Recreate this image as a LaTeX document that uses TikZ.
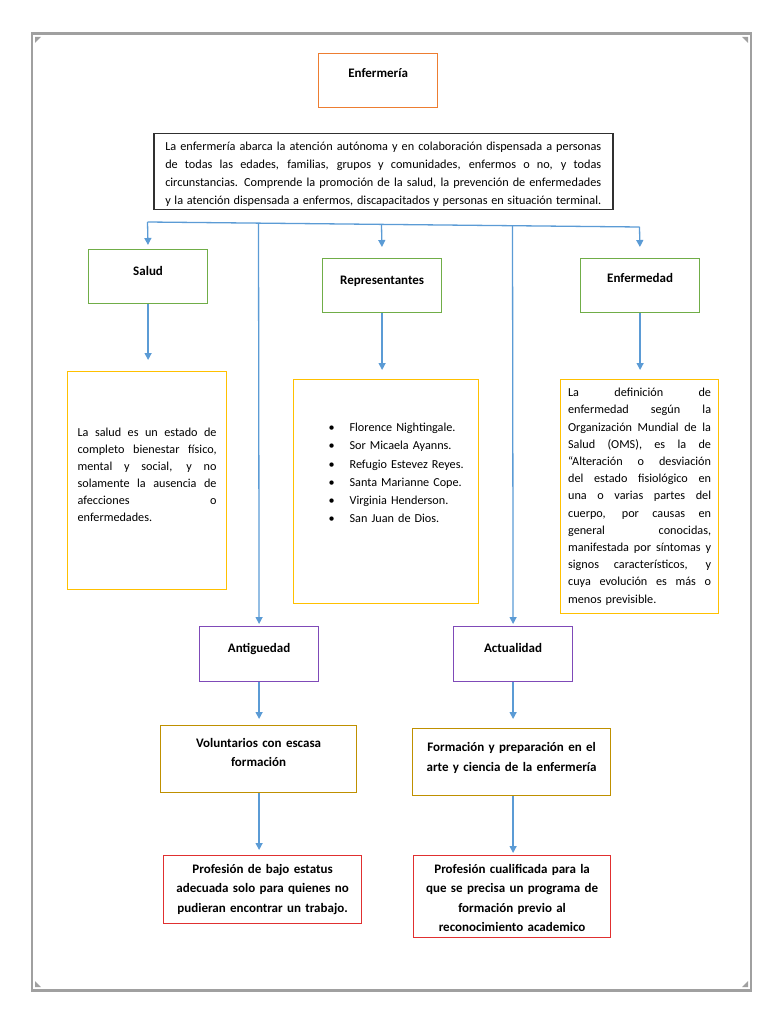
\documentclass[tikz,border=0pt]{standalone}
\usepackage{fontspec}
\setmainfont{Carlito}
\usetikzlibrary{arrows.meta}
\definecolor{orng}{HTML}{ED7D31}
\definecolor{grn}{HTML}{70AD47}
\definecolor{gld}{HTML}{FFC000}
\definecolor{dgld}{HTML}{BF9000}
\definecolor{purp}{HTML}{7F4AB8}
\definecolor{rd}{HTML}{E03030}
\definecolor{arr}{HTML}{5B9BD5}
\definecolor{frm}{HTML}{A0A0A0}
\definecolor{dtxt}{HTML}{303030}
\newcommand{\jline}[2]{\leavevmode\hbox to #1{\spaceskip=0.226em plus 1fil minus 0.06em\relax #2}}
\newcommand{\bul}[1]{\mbox{\makebox[21pt][l]{\textbullet}#1}}
\begin{document}
\begin{tikzpicture}[x=1pt,y=-1pt,
  box/.style={draw, line width=1.2pt, inner xsep=0pt, inner ysep=0pt, anchor=north west, font=\fontsize{12.2}{17}\selectfont},
  ttl/.style={font=\fontsize{13}{16}\selectfont\bfseries, align=center},
  dims/.style n args={4}{minimum width=#1pt, text height=#2pt, text depth=#3pt, text width=#4pt},
  conn/.style={draw=arr, line width=1.3pt, -{Triangle[width=7pt,length=7pt]}},
]
\useasboundingbox (0,0) rectangle (768,1024);
% frame
\draw[frm, line width=2pt] (32,33) -- (32,991) (751,33) -- (751,991);
\draw[frm, line width=3pt] (31,33.5) -- (752,33.5) (31,990) -- (752,990);
\fill[frm] (35,37) -- (41,37) -- (35,43) -- cycle;
\fill[frm] (748,37) -- (742,37) -- (748,43) -- cycle;
\fill[frm] (35,987) -- (41,987) -- (35,981) -- cycle;
\fill[frm] (748,987) -- (742,987) -- (748,981) -- cycle;

\node[box, ttl, draw=orng, dims={119}{24}{30}{119}] (enf) at (318,53) {Enfermería};

\node[box, draw=dtxt, line width=1.5pt, dims={459}{17}{59}{436}, align=left, font=\fontsize{12.25}{18}\selectfont] (desc) at (153,133)
{\jline{436pt}{La enfermería abarca la atención autónoma y en colaboración dispensada a personas}\\
\jline{436pt}{de todas las edades, familias, grupos y comunidades, enfermos o no, y todas}\\
\jline{436pt}{circunstancias. Comprende la promoción de la salud, la prevención de enfermedades}\\
\jline{436pt}{y la atención dispensada a enfermos, discapacitados y personas en situación terminal.}};

\node[box, ttl, draw=grn, dims={119}{26}{28}{119}] (salud) at (88,249) {Salud};
\node[box, ttl, draw=grn, dims={119}{26}{28}{119}] (rep) at (322,258) {Representantes};
\node[box, ttl, draw=grn, dims={119}{24}{30}{119}] (enfmd) at (580,258) {Enfermedad};

\node[box, draw=gld, dims={159}{65}{153}{139}, align=left] (saludtxt) at (67,371)
{\jline{139pt}{La salud es un estado de}\\
\jline{139pt}{completo bienestar físico,}\\
\jline{139pt}{mental y social, y no}\\
\jline{139pt}{solamente la ausencia de}\\
\jline{139pt}{afecciones o}\\
enfermedades.};

\node[box, draw=gld, dims={185}{52}{172}{115}, align=left, font=\fontsize{12.2}{18.2}\selectfont] (replist) at (293,379)
{\bul{Florence Nightingale.}\\
\bul{Sor Micaela Ayanns.}\\
\bul{Refugio Estevez Reyes.}\\
\bul{Santa Marianne Cope.}\\
\bul{Virginia Henderson.}\\
\bul{San Juan de Dios.}};

\node[box, draw=gld, dims={158}{17}{217}{143}, align=left, font=\fontsize{12.2}{17.2}\selectfont] (enftxt) at (560,379)
{\jline{143pt}{La definición de}\\
\jline{143pt}{enfermedad según la}\\
\jline{143pt}{Organización Mundial de la}\\
\jline{143pt}{Salud (OMS), es la de}\\
\jline{143pt}{“Alteración o desviación}\\
\jline{143pt}{del estado fisiológico en}\\
\jline{143pt}{una o varias partes del}\\
\jline{143pt}{cuerpo, por causas en}\\
\jline{143pt}{general conocidas,}\\
\jline{143pt}{manifestada por síntomas y}\\
\jline{143pt}{signos característicos, y}\\
\jline{143pt}{cuya evolución es más o}\\
menos previsible.};

\node[box, ttl, draw=purp, dims={119}{26}{29}{119}] (ant) at (199,626) {Antiguedad};
\node[box, ttl, draw=purp, dims={119}{26}{29}{119}] (act) at (453,626) {Actualidad};

\node[box, ttl, draw=dgld, dims={196}{22}{45}{196}, font=\fontsize{13}{19}\selectfont\bfseries] (vol) at (160,725)
{Voluntarios con escasa\\formación};
\node[box, ttl, draw=dgld, dims={198}{23}{44}{198}, font=\fontsize{13}{19.5}\selectfont\bfseries] (form) at (412,728)
{Formación y preparación en el\\arte y ciencia de la enfermería};

\node[box, ttl, draw=rd, dims={198}{18}{50}{198}, font=\fontsize{13}{19.3}\selectfont\bfseries] (prof1) at (163,855)
{Profesión de bajo estatus\\adecuada solo para quienes no\\pudieran encontrar un trabajo.};
\node[box, ttl, draw=rd, dims={197}{18}{64}{197}, font=\fontsize{13}{19.3}\selectfont\bfseries] (prof2) at (413,855)
{Profesión cualificada para la\\que se precisa un programa de\\formación previo al\\reconocimiento academico};

% connectors
\coordinate (bl) at (147.5,222);
\coordinate (br) at (639.5,227);
\coordinate (bant) at (258.5,223.2);
\coordinate (brep) at (381.5,224.4);
\coordinate (bact) at (512.5,225.7);
\draw[draw=arr, line width=1.3pt] (bl) -- (br);
\draw[conn, shorten >=4pt] (bl) -- (salud.north);
\draw[conn, shorten >=11pt] (brep) -- (rep.north);
\draw[conn, shorten >=11pt] (br) -- (enfmd.north);
\draw[conn, shorten >=2pt] (bant) -- (ant.north);
\draw[conn, shorten >=2pt] (bact) -- (act.north);
\draw[conn, shorten >=11pt] (salud.south) -- (salud.south |- saludtxt.north);
\draw[conn, shorten >=9pt] (rep.south) -- (rep.south |- replist.north);
\draw[conn, shorten >=9pt] (enfmd.south) -- (enfmd.south |- enftxt.north);
\draw[conn, shorten >=6pt] (ant.south) -- (ant.south |- vol.north);
\draw[conn, shorten >=9pt] (act.south) -- (act.south |- form.north);
\draw[conn, shorten >=5pt] (vol.south -| ant.south) -- (ant.south |- prof1.north);
\draw[conn, shorten >=2pt] (form.south -| act.south) -- (act.south |- prof2.north);
\end{tikzpicture}
\end{document}
